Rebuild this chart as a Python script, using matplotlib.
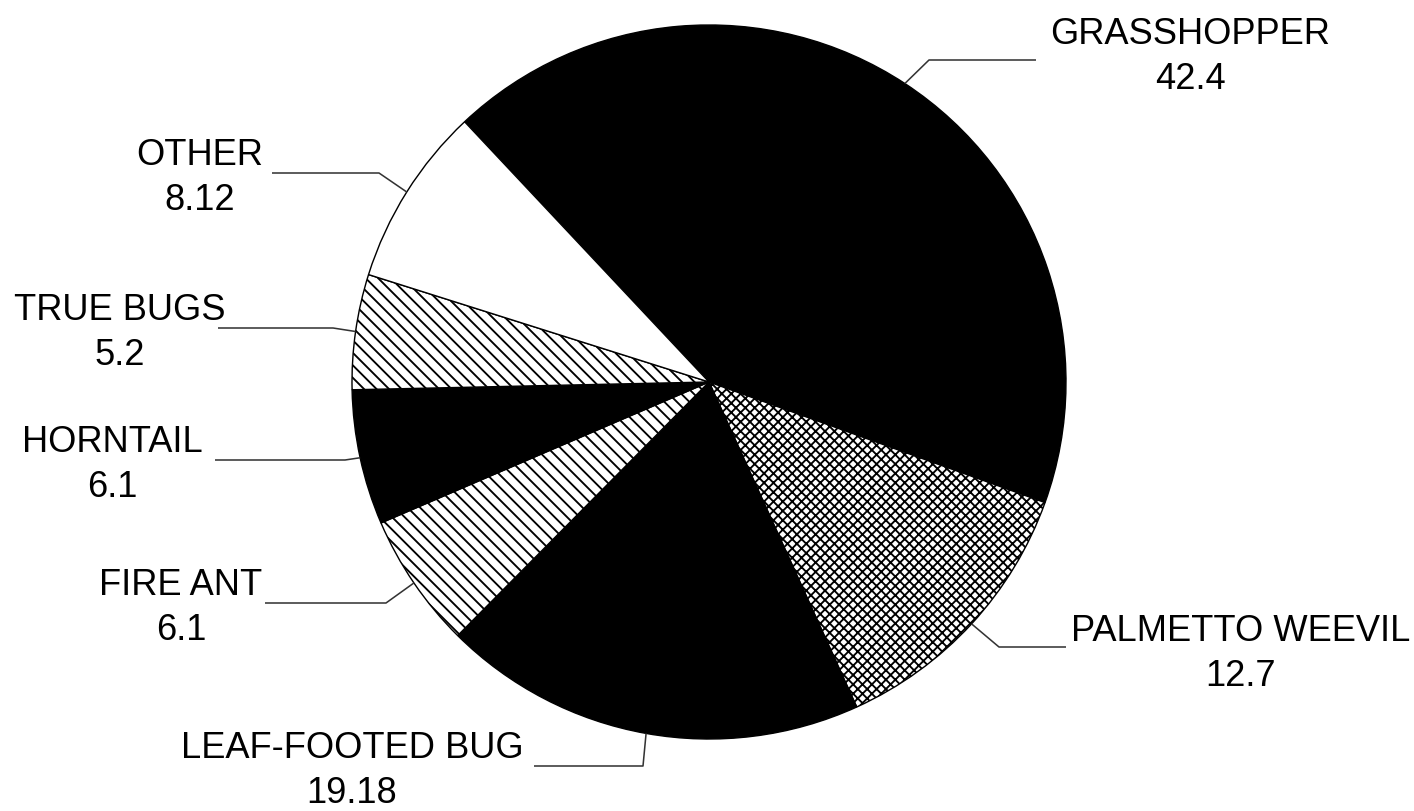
import numpy as np
import matplotlib
matplotlib.use("Agg")
import matplotlib.pyplot as plt

# ---- data ----
categories = ['GRASSHOPPER', 'PALMETTO WEEVIL', 'LEAF-FOOTED BUG', 'FIRE ANT',
              'HORNTAIL', 'TRUE BUGS', 'OTHER']
values = [42.4, 12.7, 19.18, 6.1, 6.1, 5.2, 8.12]
value_labels = ['42.4', '12.7', '19.18', '6.1', '6.1', '5.2', '8.12']

# ---- styles ----
colors = ['black', 'white', 'black', 'white', 'black', 'white', 'white']
hatches = ['', 'xxxxxxxx', '', '\\' * 6, '', '\\' * 6, '']

# ---- layout (pixel coordinates, y measured from top) ----
W, H, DPI = 1414, 811, 225
pie_center = (709, 382)
pie_radius = 357
start_angle = 133.2
# per label: leader y, far end x, elbow x, text centre x, name baseline y
leader_y = [60, 647, 766, 603, 460, 328, 173]
leader_far_x = [1036, 1066, 534, 265, 215, 218, 272]
leader_elbow_x = [929, 999, 643, 386, 345, 333, 379]
text_cx = [1190, 1241, 352, 181, 112, 120, 200]
name_base_y = [44, 641, 758, 595, 452, 320, 165]
line_pitch = 45
fontsize = 11.6

plt.rcParams['font.family'] = ['Liberation Sans', 'DejaVu Sans']
plt.rcParams['hatch.linewidth'] = 0.6

fig = plt.figure(figsize=(W / DPI, H / DPI), dpi=DPI)
ax = fig.add_axes([0, 0, 1, 1])

wedges, _ = ax.pie(values, colors=colors, hatch=hatches,
                   startangle=start_angle, counterclock=False,
                   center=(pie_center[0], H - pie_center[1]),
                   radius=pie_radius,
                   wedgeprops=dict(edgecolor='black', linewidth=0.45))

ax.set_xlim(0, W)
ax.set_ylim(0, H)
ax.set_aspect('equal')
ax.axis('off')

cx, cy = pie_center[0], H - pie_center[1]
for i, w in enumerate(wedges):
    mid = np.deg2rad((w.theta1 + w.theta2) / 2.0)
    ex = cx + pie_radius * np.cos(mid)
    ey = cy + pie_radius * np.sin(mid)
    ly = H - leader_y[i]
    ax.plot([leader_far_x[i], leader_elbow_x[i], ex], [ly, ly, ey],
            color='#333333', lw=0.5, solid_capstyle='butt')
    ax.text(text_cx[i], H - name_base_y[i], categories[i], ha='center',
            va='baseline', fontsize=fontsize, color='black')
    ax.text(text_cx[i], H - name_base_y[i] - line_pitch, value_labels[i],
            ha='center', va='baseline', fontsize=fontsize, color='black')

fig.savefig('out.png', dpi=DPI, facecolor='white')
